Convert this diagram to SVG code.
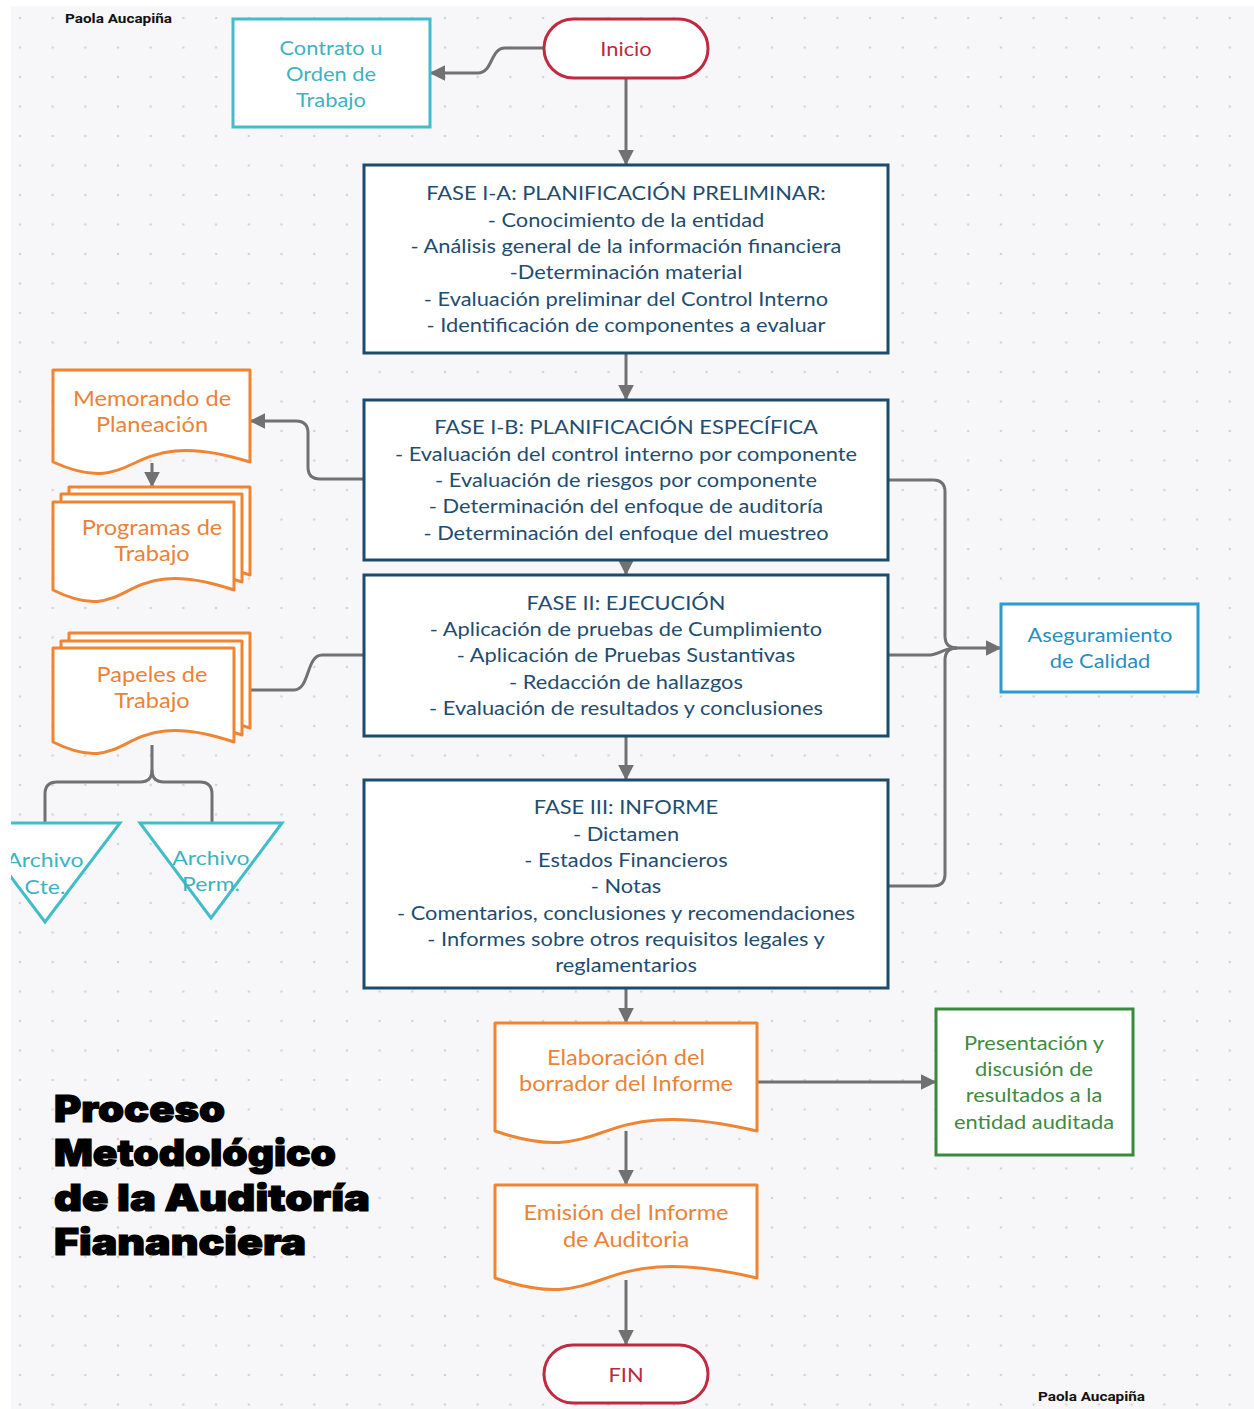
<svg xmlns="http://www.w3.org/2000/svg" width="1254" height="1409" viewBox="0 0 1254 1409">
  <defs>
    <pattern id="dots" x="19.9" y="18" width="32.7" height="29.5" patternUnits="userSpaceOnUse">
      <circle cx="0" cy="0" r="1.3" fill="#d3d3d8"/>
      <circle cx="32.7" cy="0" r="1.3" fill="#d3d3d8"/>
      <circle cx="0" cy="29.5" r="1.3" fill="#d3d3d8"/>
      <circle cx="32.7" cy="29.5" r="1.3" fill="#d3d3d8"/>
    </pattern>
    <marker id="ah" viewBox="0 0 10 10" refX="9" refY="5" markerWidth="16" markerHeight="16" markerUnits="userSpaceOnUse" orient="auto">
      <path d="M0,0 L10,5 L0,10 z" fill="#717171"/>
    </marker>
    <style>
      .lbl { font-family: Lato, "Open Sans", "DejaVu Sans", sans-serif; font-size: 19px; text-anchor: middle; dominant-baseline: central; }
      .phase { fill: #fff; stroke: #1d4b6d; stroke-width: 3; }
      .phase-t { fill: #1f4d6f; }
      .doc { fill: #fff; stroke: #ef8533; stroke-width: 3; stroke-linejoin: round; }
      .doc-t { fill: #ea8338; font-size: 20.5px; }
      .teal { fill: #fff; stroke: #40bdc9; stroke-width: 3; }
      .teal-t { fill: #3cb3bf; }
      .arch-t { font-size: 20px; }
      .term { fill: #fff; stroke: #c02a40; stroke-width: 3; }
      .term-t { fill: #b82a3e; }
      .blue-t { fill: #2a8ec2; }
      .green-t { fill: #3f8a42; }
      .wire { fill: none; stroke: #717171; stroke-width: 3; }
      .author { font-family: Roboto, "Liberation Sans", sans-serif; font-weight: 700; font-size: 13.5px; fill: #111; }
      .title { font-family: "Arial Black", Inter, "Liberation Sans", sans-serif; font-weight: 900; font-size: 37px; fill: #000; stroke: #000; stroke-width: 1.2; }
    </style>
  </defs>

  <!-- canvas -->
  <rect x="0" y="0" width="1254" height="1409" fill="#ffffff"/>
  <rect x="11" y="6" width="1243" height="1403" fill="#f7f7f9"/>
  <rect x="11" y="6" width="1243" height="1403" fill="url(#dots)"/>

  <!-- connectors -->
  <g id="connectors">
    <path class="wire" d="M544,48 H505 C490,48 493,73 478,73 H431" marker-end="url(#ah)"/>
    <path class="wire" d="M626,78 V164" marker-end="url(#ah)"/>
    <path class="wire" d="M626,353 V399" marker-end="url(#ah)"/>
    <path class="wire" d="M626,560 V574" marker-end="url(#ah)"/>
    <path class="wire" d="M626,736 V779" marker-end="url(#ah)"/>
    <path class="wire" d="M626,988 V1022" marker-end="url(#ah)"/>
    <path class="wire" d="M626,1131 V1184" marker-end="url(#ah)"/>
    <path class="wire" d="M626,1280 V1344" marker-end="url(#ah)"/>
    <path class="wire" d="M757,1082 H935" marker-end="url(#ah)"/>
    <path class="wire" d="M364,479 H320 Q308,479 308,467 V433 Q308,421 296,421 H251" marker-end="url(#ah)"/>
    <path class="wire" d="M152,463 V486" marker-end="url(#ah)"/>
    <path class="wire" d="M364,655 H322 C306,655 310,690 294,690 H250"/>
    <path class="wire" d="M152,745 V770 Q152,782 140,782 H57 Q45,782 45,794 V823"/>
    <path class="wire" d="M152,770 Q152,782 164,782 H200 Q212,782 212,794 V823"/>
    <path class="wire" d="M888,480 H933 Q945,480 945,492 V636 Q945,648 957,648 H1000" marker-end="url(#ah)"/>
    <path class="wire" d="M888,655 H928 C940,655 942,648 957,648"/>
    <path class="wire" d="M888,886 H933 Q945,886 945,874 V660 Q945,648 957,648"/>
  </g>

  <!-- start / end -->
  <g id="inicio">
    <rect class="term" x="544" y="19" width="164" height="59" rx="29.5"/>
    <g transform="translate(626 0) scale(1.15 1)">
      <text class="lbl term-t" x="0" y="49">Inicio</text>
    </g>
  </g>
  <g id="fin">
    <rect class="term" x="544" y="1345" width="164" height="58" rx="29"/>
    <g transform="translate(626 0) scale(1.15 1)">
      <text class="lbl term-t" x="0" y="1375">FIN</text>
    </g>
  </g>

  <g id="contrato">
    <rect class="teal" x="233" y="19" width="197" height="108"/>
    <g transform="translate(331 0) scale(1.15 1)">
      <text class="lbl teal-t" x="0" y="48">Contrato u</text>
      <text class="lbl teal-t" x="0" y="74">Orden de</text>
      <text class="lbl teal-t" x="0" y="100">Trabajo</text>
    </g>
  </g>

  <!-- phases -->
  <g id="fase-1a">
    <rect class="phase" x="364" y="165" width="524" height="188"/>
    <g transform="translate(626 0) scale(1.15 1)">
      <text class="lbl phase-t" x="0" y="193">FASE I-A: PLANIFICACIÓN PRELIMINAR:</text>
      <text class="lbl phase-t" x="0" y="220">- Conocimiento de la entidad</text>
      <text class="lbl phase-t" x="0" y="246">- Análisis general de la información financiera</text>
      <text class="lbl phase-t" x="0" y="272">-Determinación material</text>
      <text class="lbl phase-t" x="0" y="299">- Evaluación preliminar del Control Interno</text>
      <text class="lbl phase-t" x="0" y="325">- Identificación de componentes a evaluar</text>
    </g>
  </g>
  <g id="fase-1b">
    <rect class="phase" x="364" y="400" width="524" height="160"/>
    <g transform="translate(626 0) scale(1.15 1)">
      <text class="lbl phase-t" x="0" y="427">FASE I-B: PLANIFICACIÓN ESPECÍFICA</text>
      <text class="lbl phase-t" x="0" y="454">- Evaluación del control interno por componente</text>
      <text class="lbl phase-t" x="0" y="480">- Evaluación de riesgos por componente</text>
      <text class="lbl phase-t" x="0" y="506">- Determinación del enfoque de auditoría</text>
      <text class="lbl phase-t" x="0" y="533">- Determinación del enfoque del muestreo</text>
    </g>
  </g>
  <g id="fase-2">
    <rect class="phase" x="364" y="575" width="524" height="161"/>
    <g transform="translate(626 0) scale(1.15 1)">
      <text class="lbl phase-t" x="0" y="603">FASE II: EJECUCIÓN</text>
      <text class="lbl phase-t" x="0" y="629">- Aplicación de pruebas de Cumplimiento</text>
      <text class="lbl phase-t" x="0" y="655">- Aplicación de Pruebas Sustantivas</text>
      <text class="lbl phase-t" x="0" y="682">- Redacción de hallazgos</text>
      <text class="lbl phase-t" x="0" y="708">- Evaluación de resultados y conclusiones</text>
    </g>
  </g>
  <g id="fase-3">
    <rect class="phase" x="364" y="780" width="524" height="208"/>
    <g transform="translate(626 0) scale(1.15 1)">
      <text class="lbl phase-t" x="0" y="807">FASE III: INFORME</text>
      <text class="lbl phase-t" x="0" y="834">- Dictamen</text>
      <text class="lbl phase-t" x="0" y="860">- Estados Financieros</text>
      <text class="lbl phase-t" x="0" y="886">- Notas</text>
      <text class="lbl phase-t" x="0" y="913">- Comentarios, conclusiones y recomendaciones</text>
      <text class="lbl phase-t" x="0" y="939">- Informes sobre otros requisitos legales y</text>
      <text class="lbl phase-t" x="0" y="965">reglamentarios</text>
    </g>
  </g>

  <!-- documents -->
  <g id="memorando">
    <path class="doc" d="M53,370 H250 V462 C122,422 142,502 53,462 Z"/>
    <g transform="translate(152 0) scale(1.15 1)">
      <text class="lbl doc-t" x="0" y="398">Memorando de</text>
      <text class="lbl doc-t" x="0" y="424">Planeación</text>
    </g>
  </g>
  <g id="programas">
    <path class="doc" d="M69,487 H250 V575 C132,535 150,615 69,575 Z"/>
    <path class="doc" d="M61,494 H242 V582 C124,542 142,622 61,582 Z"/>
    <path class="doc" d="M53,502 H234 V590 C116,550 134,630 53,590 Z"/>
    <g transform="translate(152 0) scale(1.15 1)">
      <text class="lbl doc-t" x="0" y="527">Programas de</text>
      <text class="lbl doc-t" x="0" y="553">Trabajo</text>
    </g>
  </g>
  <g id="papeles">
    <path class="doc" d="M69,633 H250 V728 C132,688 150,768 69,728 Z"/>
    <path class="doc" d="M61,641 H242 V735 C124,695 142,775 61,735 Z"/>
    <path class="doc" d="M53,648 H234 V742 C116,702 134,782 53,742 Z"/>
    <g transform="translate(152 0) scale(1.15 1)">
      <text class="lbl doc-t" x="0" y="674">Papeles de</text>
      <text class="lbl doc-t" x="0" y="700">Trabajo</text>
    </g>
  </g>
  <g id="elaboracion">
    <path class="doc" d="M495,1023 H757 V1131 C587,1091 613,1171 495,1131 Z"/>
    <g transform="translate(626 0) scale(1.15 1)">
      <text class="lbl doc-t" x="0" y="1057">Elaboración del</text>
      <text class="lbl doc-t" x="0" y="1083">borrador del Informe</text>
    </g>
  </g>
  <g id="emision">
    <path class="doc" d="M495,1185 H757 V1278 C587,1238 613,1318 495,1278 Z"/>
    <g transform="translate(626 0) scale(1.15 1)">
      <text class="lbl doc-t" x="0" y="1212">Emisión del Informe</text>
      <text class="lbl doc-t" x="0" y="1239">de Auditoria</text>
    </g>
  </g>

  <!-- archives -->
  <g id="archivo-cte">
    <path class="teal" d="M-30,823 H120 L45,922 Z"/>
    <g transform="translate(45 0) scale(1.15 1)">
      <text class="lbl teal-t arch-t" x="0" y="860">Archivo</text>
      <text class="lbl teal-t arch-t" x="0" y="887">Cte.</text>
    </g>
  </g>
  <g id="archivo-perm">
    <path class="teal" d="M140,823 H282 L211,918 Z"/>
    <g transform="translate(211 0) scale(1.15 1)">
      <text class="lbl teal-t arch-t" x="0" y="858">Archivo</text>
      <text class="lbl teal-t arch-t" x="0" y="884">Perm.</text>
    </g>
  </g>

  <g id="aseguramiento">
    <rect x="1001" y="604" width="197" height="88" fill="#fff" stroke="#2b9cd0" stroke-width="3"/>
    <g transform="translate(1100 0) scale(1.15 1)">
      <text class="lbl blue-t" x="0" y="635">Aseguramiento</text>
      <text class="lbl blue-t" x="0" y="661">de Calidad</text>
    </g>
  </g>

  <g id="presentacion">
    <rect x="936" y="1009" width="197" height="146" fill="#fff" stroke="#3a8a3e" stroke-width="3"/>
    <g transform="translate(1034 0) scale(1.15 1)">
      <text class="lbl green-t" x="0" y="1043">Presentación y</text>
      <text class="lbl green-t" x="0" y="1069">discusión de</text>
      <text class="lbl green-t" x="0" y="1095">resultados a la</text>
      <text class="lbl green-t" x="0" y="1122">entidad auditada</text>
    </g>
  </g>

  <!-- title and credits -->
  <g id="title">
    <text class="title" x="54" y="1122" textLength="171" lengthAdjust="spacingAndGlyphs">Proceso</text>
    <text class="title" x="54" y="1166" textLength="282" lengthAdjust="spacingAndGlyphs">Metodológico</text>
    <text class="title" x="54" y="1211" textLength="316" lengthAdjust="spacingAndGlyphs">de la Auditoría</text>
    <text class="title" x="54" y="1255" textLength="252" lengthAdjust="spacingAndGlyphs">Fiananciera</text>
  </g>
  <text class="author" x="65" y="23" textLength="107" lengthAdjust="spacingAndGlyphs">Paola Aucapiña</text>
  <text class="author" x="1038" y="1401" textLength="107" lengthAdjust="spacingAndGlyphs">Paola Aucapiña</text>

  <!-- page margin -->
  <rect x="0" y="0" width="11" height="1409" fill="#ffffff"/>
  <rect x="0" y="0" width="1254" height="6" fill="#ffffff"/>
</svg>
